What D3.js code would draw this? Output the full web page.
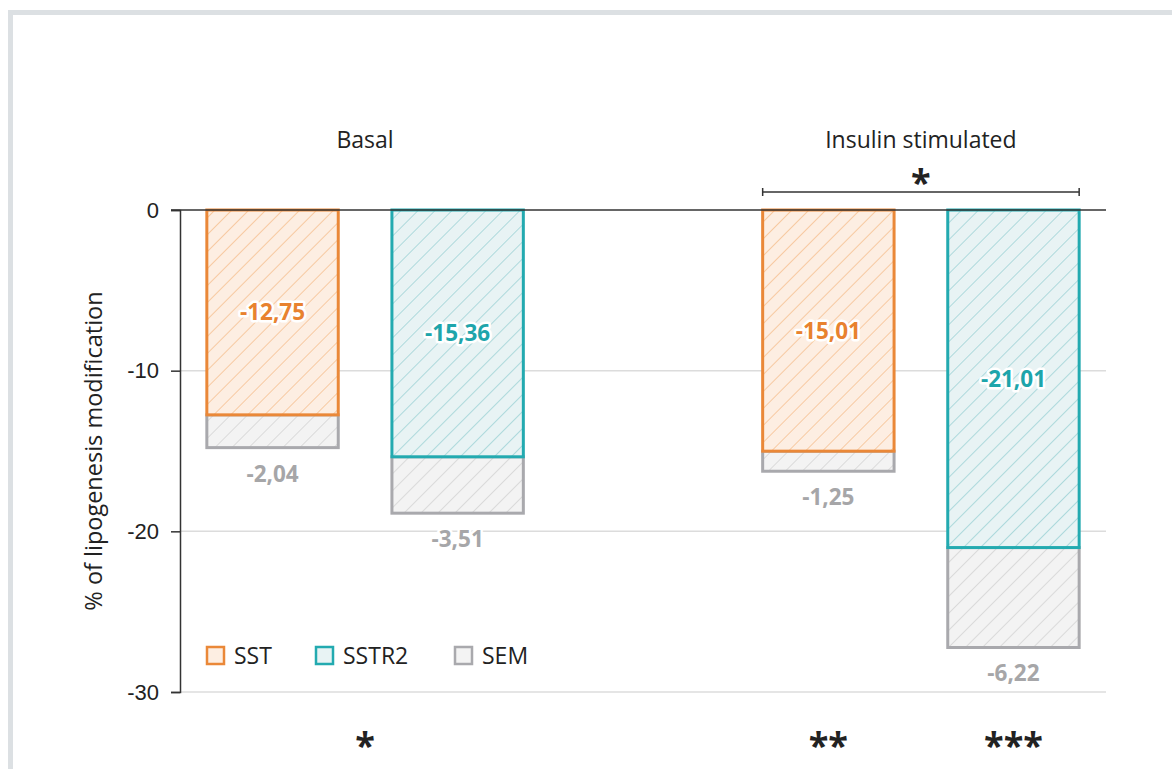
<!DOCTYPE html>
<html>
<head>
<meta charset="utf-8">
<script src="https://cdn.jsdelivr.net/npm/d3@7/dist/d3.min.js"></script>
<style>
  html, body { margin: 0; padding: 0; background: #fff; }
  svg { display: block; font-family: "Open Sans", "Noto Sans", sans-serif; }
</style>
</head>
<body>
<svg id="chart" width="1172" height="769"></svg>
<script>
// Lipogenesis change (%) per condition and treatment
const groups = ["Basal", "Insulin stimulated"];
const series = ["SST", "SSTR2"];
const sstValues = [-12.75, -15.01];
const sstr2Values = [-15.36, -21.01];
const sstSem = [-2.04, -1.25];
const sstr2Sem = [-3.51, -6.22];
const yTicks = [0, -10, -20, -30];
const legendLabels = ["SST", "SSTR2", "SEM"];
const groupStars = ["*", ""];
const barStars = [["", ""], ["**", "***"]];
const bracketStar = "*";

const palette = {
  SST:   { stroke: "#ea8838", fill: "#fdeee2", hatch: "#f6c396", text: "#e8822f" },
  SSTR2: { stroke: "#23aab0", fill: "#e8f3f4", hatch: "#a3d5d8", text: "#1ea5ab" },
  SEM:   { stroke: "#a9a9ad", fill: "#f3f3f3", hatch: "#d6d6d6", text: "#a6a6a8" }
};

const fmt = v => d3.format(".2f")(v).replace(".", ",").replace("−", "-");

const rows = [];
groups.forEach((g, gi) => {
  rows.push({ group: g, series: "SST", value: sstValues[gi], sem: sstSem[gi], star: barStars[gi][0] });
  rows.push({ group: g, series: "SSTR2", value: sstr2Values[gi], sem: sstr2Sem[gi], star: barStars[gi][1] });
});

const svg = d3.select("#chart");

// outer frame
svg.append("rect")
  .attr("x", 10.5).attr("y", 12.5)
  .attr("width", 1300).attr("height", 900)
  .attr("fill", "none").attr("stroke", "#dce0e3").attr("stroke-width", 5);

const plotLeft = 180, plotRight = 1106, plotTop = 210, plotBottom = 692;

const x0 = d3.scaleBand().domain(groups).range([plotLeft, plotRight]).paddingInner(0.334).paddingOuter(0);
const x1 = d3.scaleBand().domain(series).range([0, x0.bandwidth()]).paddingInner(0.29).paddingOuter(0.145);
const y = d3.scaleLinear().domain([0, -30]).range([plotTop, plotBottom]);

// hatch patterns
const defs = svg.append("defs");
Object.entries(palette).forEach(([key, c]) => {
  const p = defs.append("pattern")
    .attr("id", "hatch-" + key)
    .attr("patternUnits", "userSpaceOnUse")
    .attr("width", 12).attr("height", 12)
    .attr("patternTransform", "rotate(45)");
  p.append("rect").attr("width", 12).attr("height", 12).attr("fill", c.fill);
  p.append("line").attr("x1", 0).attr("y1", 0).attr("x2", 0).attr("y2", 12)
    .attr("stroke", c.hatch).attr("stroke-width", 1.7);
});

// gridlines
svg.append("g").selectAll("line")
  .data(yTicks.filter(t => t !== 0))
  .join("line")
  .attr("x1", plotLeft).attr("x2", plotRight)
  .attr("y1", d => y(d)).attr("y2", d => y(d))
  .attr("stroke", "#dcdcdc").attr("stroke-width", 1.5);

// y axis
const yAxis = svg.append("g")
  .attr("transform", `translate(${plotLeft},0)`)
  .call(d3.axisLeft(y).tickValues(yTicks).tickFormat(d => d3.format("d")(d).replace("−", "-")).tickSize(9).tickPadding(12));
yAxis.select(".domain").attr("stroke", "#333").attr("stroke-width", 1.5);
yAxis.selectAll(".tick line").attr("stroke", "#333").attr("stroke-width", 1.5);
yAxis.selectAll(".tick text").attr("fill", "#222").attr("font-size", 22);

svg.append("text")
  .attr("transform", `translate(102,${(plotTop + plotBottom) / 2}) rotate(-90)`)
  .attr("text-anchor", "middle")
  .attr("fill", "#222").attr("font-size", 23.5)
  .text("% of lipogenesis modification");

// group titles
svg.append("g").selectAll("text")
  .data(groups).join("text")
  .attr("x", d => x0(d) + x0.bandwidth() / 2)
  .attr("y", 148)
  .attr("text-anchor", "middle")
  .attr("fill", "#222").attr("font-size", 23)
  .text(d => d);

const barG = svg.append("g");

// SEM extension below each bar
barG.selectAll("rect.sem")
  .data(rows).join("rect")
  .attr("class", "sem")
  .attr("x", d => x0(d.group) + x1(d.series))
  .attr("width", x1.bandwidth())
  .attr("y", d => y(d.value))
  .attr("height", d => y(d.value + d.sem) - y(d.value))
  .attr("fill", "url(#hatch-SEM)")
  .attr("stroke", palette.SEM.stroke).attr("stroke-width", 3);

// main bars
barG.selectAll("rect.bar")
  .data(rows).join("rect")
  .attr("class", "bar")
  .attr("x", d => x0(d.group) + x1(d.series))
  .attr("width", x1.bandwidth())
  .attr("y", y(0))
  .attr("height", d => y(d.value) - y(0))
  .attr("fill", d => `url(#hatch-${d.series})`)
  .attr("stroke", d => palette[d.series].stroke).attr("stroke-width", 3);

// zero baseline
svg.append("line")
  .attr("x1", plotLeft - 9).attr("x2", plotRight)
  .attr("y1", y(0)).attr("y2", y(0))
  .attr("stroke", "#333").attr("stroke-width", 1.5);

// value labels
barG.selectAll("text.val")
  .data(rows).join("text")
  .attr("class", "val")
  .attr("x", d => x0(d.group) + x1(d.series) + x1.bandwidth() / 2)
  .attr("y", d => (y(0) + y(d.value)) / 2 + 8)
  .attr("text-anchor", "middle")
  .attr("font-size", 22.5).attr("font-weight", 700)
  .attr("fill", d => palette[d.series].text)
  .attr("stroke", "#fff").attr("stroke-width", 5).attr("stroke-linejoin", "round")
  .attr("paint-order", "stroke")
  .text(d => fmt(d.value));

// SEM labels
barG.selectAll("text.semval")
  .data(rows).join("text")
  .attr("class", "semval")
  .attr("x", d => x0(d.group) + x1(d.series) + x1.bandwidth() / 2)
  .attr("y", d => y(d.value + d.sem) + 34)
  .attr("text-anchor", "middle")
  .attr("font-size", 22.5).attr("font-weight", 700)
  .attr("fill", palette.SEM.text)
  .attr("stroke", "#fff").attr("stroke-width", 5).attr("stroke-linejoin", "round")
  .attr("paint-order", "stroke")
  .text(d => fmt(d.sem));

// significance markers: per group, then per bar
const starG = svg.append("g")
  .attr("text-anchor", "middle")
  .attr("font-size", 36).attr("font-weight", 700).attr("fill", "#222");
starG.selectAll("text.gstar")
  .data(groups.map((g, i) => ({ group: g, star: groupStars[i] })).filter(d => d.star))
  .join("text")
  .attr("class", "gstar")
  .attr("x", d => x0(d.group) + x0.bandwidth() / 2)
  .attr("y", 758)
  .text(d => d.star);
starG.selectAll("text.bstar")
  .data(rows.filter(d => d.star)).join("text")
  .attr("class", "bstar")
  .attr("x", d => x0(d.group) + x1(d.series) + x1.bandwidth() / 2)
  .attr("y", 758)
  .text(d => d.star);

// bracket between insulin-stimulated bars
const g2 = groups[1];
const bx1 = x0(g2) + x1("SST");
const bx2 = x0(g2) + x1("SSTR2") + x1.bandwidth();
const by = 192;
const br = svg.append("g").attr("stroke", "#333").attr("stroke-width", 1.5);
br.append("line").attr("x1", bx1).attr("x2", bx2).attr("y1", by).attr("y2", by);
br.append("line").attr("x1", bx1).attr("x2", bx1).attr("y1", by - 4).attr("y2", by + 4);
br.append("line").attr("x1", bx2).attr("x2", bx2).attr("y1", by - 4).attr("y2", by + 4);
svg.append("text")
  .attr("x", (bx1 + bx2) / 2).attr("y", 195)
  .attr("text-anchor", "middle")
  .attr("font-size", 36).attr("font-weight", 700).attr("fill", "#222")
  .text(bracketStar);

// legend
const legendX = [207, 316, 455];
const legendKeys = ["SST", "SSTR2", "SEM"];
const lg = svg.append("g").selectAll("g")
  .data(legendLabels).join("g")
  .attr("transform", (d, i) => `translate(${legendX[i]},647)`);
lg.append("rect")
  .attr("width", 17).attr("height", 17)
  .attr("fill", (d, i) => palette[legendKeys[i]].fill)
  .attr("stroke", (d, i) => palette[legendKeys[i]].stroke)
  .attr("stroke-width", 2.5);
lg.append("text")
  .attr("x", 27).attr("y", 17)
  .attr("font-size", 23).attr("fill", "#222")
  .text(d => d);
</script>
</body>
</html>
